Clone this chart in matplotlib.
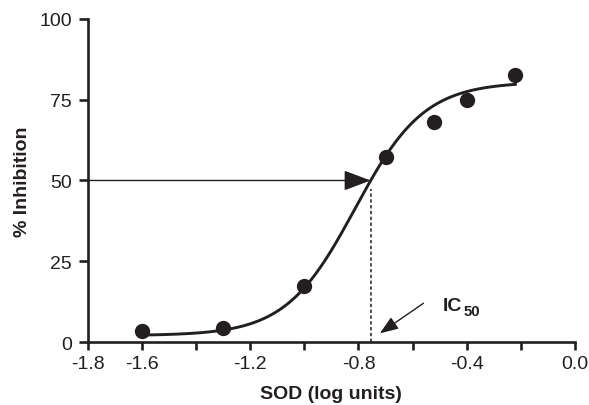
import numpy as np
import matplotlib
matplotlib.use("Agg")
import matplotlib.pyplot as plt

plt.rcParams['font.family'] = ['Liberation Sans', 'DejaVu Sans']

# measured points
sod_log = [-1.60, -1.30, -1.00, -0.70, -0.52, -0.40, -0.22]
inhibition = [3.5, 4.2, 17.2, 57.2, 68.0, 74.8, 82.5]

# sigmoidal dose-response fit
fit_bottom = 2.0
fit_top = 80.5
fit_log_ec50 = -0.813
fit_hill = 3.39
ic50_log = -0.755

xtick_pos = [-1.8, -1.6, -1.4, -1.2, -1.0, -0.8, -0.6, -0.4, -0.2, 0.0]
xtick_lbl = ['-1.8', '-1.6', '', '-1.2', '', '-0.8', '', '-0.4', '', '0.0']
ytick_pos = [0, 25, 50, 75, 100]

ink = '#231f20'

fig = plt.figure(figsize=(5.89, 4.06), dpi=100)
ax = fig.add_axes([0.1494, 0.155, 0.8266, 0.796])

xs = np.linspace(sod_log[0], sod_log[-1], 300)
ys = fit_bottom + (fit_top - fit_bottom) / (1 + 10 ** ((fit_log_ec50 - xs) * fit_hill))
ax.plot(xs, ys, color=ink, lw=2.1, zorder=3)
ax.plot(sod_log, inhibition, 'o', color=ink, ms=10, zorder=4)

# 50 % arrow to the curve
ax.annotate('', xy=(ic50_log, 50), xytext=(-1.8, 50),
            arrowprops=dict(arrowstyle='-|>,head_length=1.2,head_width=0.45',
                            mutation_scale=14, color=ink, lw=1,
                            shrinkA=0, shrinkB=0), zorder=2)
ax.plot([ic50_log, ic50_log], [0, 47.5], color=ink, lw=1.1,
        linestyle=(0, (2.2, 1.6)), zorder=2)

# IC50 label with arrow
ax.annotate('', xy=(-0.721, 2.7), xytext=(-0.560, 12.0),
            arrowprops=dict(arrowstyle='-|>,head_length=0.8,head_width=0.3',
                            mutation_scale=14, color=ink, lw=1,
                            shrinkA=0, shrinkB=0))
ax.text(-0.490, 10.0, 'IC', fontsize=14, fontweight='bold', color=ink,
        ha='left', va='baseline')
ax.text(-0.411, 8.45, '50', fontsize=10.8, fontweight='bold', color=ink,
        ha='left', va='baseline')

ax.set_xlim(-1.8, 0.0)
ax.set_ylim(0, 100)
ax.set_xticks(xtick_pos)
ax.set_xticklabels(xtick_lbl)
ax.set_yticks(ytick_pos)

for side in ['top', 'right']:
    ax.spines[side].set_visible(False)
for side in ['left', 'bottom']:
    ax.spines[side].set_linewidth(1.9)
    ax.spines[side].set_color(ink)
    ax.spines[side].set_capstyle('projecting')

ax.tick_params(axis='x', length=6, width=1.9, color=ink, labelsize=14,
               labelcolor=ink, pad=3.5)
ax.tick_params(axis='y', length=6.5, width=1.9, color=ink, labelsize=14,
               labelcolor=ink, pad=5)

ax.set_xlabel('SOD (log units)', fontsize=14, fontweight='bold', color=ink,
              labelpad=9)
ax.set_ylabel('% Inhibition', fontsize=14, fontweight='bold', color=ink,
              labelpad=6)

fig.savefig('out.png', dpi=100)
